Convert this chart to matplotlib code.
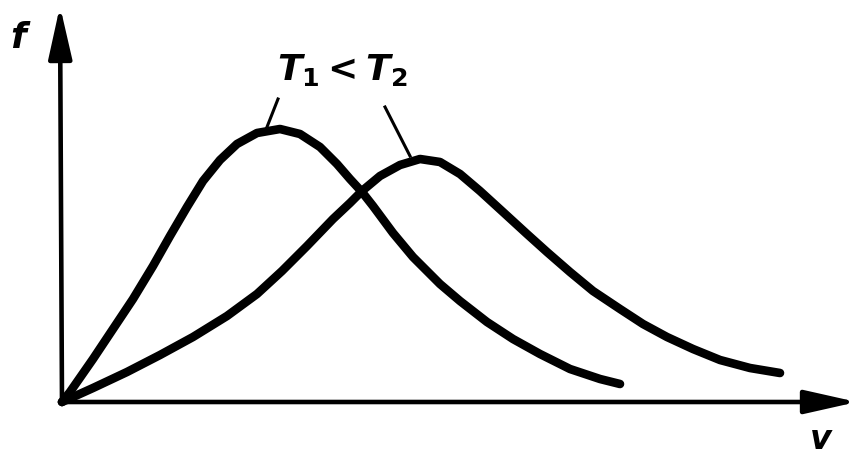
import matplotlib.pyplot as plt

plt.rcParams['mathtext.fontset'] = 'custom'
plt.rcParams['mathtext.it'] = 'DejaVu Sans:bold:italic'
plt.rcParams['mathtext.rm'] = 'DejaVu Sans:bold'

# speed distribution at the lower temperature T1
v1 = [0, 0.08, 0.31, 0.51, 0.71, 0.91, 1.08, 1.25, 1.41, 1.58, 1.75, 1.95,
      2.18, 2.38, 2.58, 2.75, 2.88, 3.00, 3.11, 3.31, 3.51, 3.78, 3.98, 4.25,
      4.51, 4.78, 5.08, 5.38, 5.58]
f1 = [0, 0.10, 0.43, 0.73, 1.03, 1.36, 1.66, 1.95, 2.21, 2.42, 2.58, 2.69,
      2.73, 2.68, 2.55, 2.38, 2.23, 2.10, 1.96, 1.69, 1.45, 1.18, 1.01, 0.80,
      0.63, 0.48, 0.33, 0.23, 0.18]

# speed distribution at the higher temperature T2
v2 = [0, 0.31, 0.65, 0.98, 1.31, 1.65, 1.95, 2.20, 2.45, 2.71, 2.88, 3.00,
      3.18, 3.38, 3.58, 3.78, 3.98, 4.18, 4.41, 4.65, 4.85, 5.08, 5.31, 5.58,
      5.81, 6.05, 6.31, 6.58, 6.88, 7.18]
f2 = [0, 0.14, 0.30, 0.47, 0.65, 0.86, 1.08, 1.31, 1.56, 1.83, 1.99, 2.11,
      2.26, 2.37, 2.43, 2.40, 2.28, 2.11, 1.90, 1.68, 1.50, 1.30, 1.11, 0.93,
      0.78, 0.65, 0.53, 0.42, 0.34, 0.29]

fig = plt.figure(figsize=(8.59, 4.56), dpi=100)
ax = fig.add_axes([0, 0, 1, 1])
ax.set_xlim(-0.62, 7.97)
ax.set_ylim(-0.53, 4.03)
ax.axis('off')

# axes with arrow heads
arrow = dict(arrowstyle='-|>,head_length=2.0,head_width=0.45', mutation_scale=16,
             lw=3.3, color='black', shrinkA=0, shrinkB=0)
ax.annotate('', xy=(-0.02, 3.96), xytext=(0, -0.02), arrowprops=arrow)
ax.annotate('', xy=(7.95, 0.0), xytext=(-0.02, 0.0), arrowprops=arrow)

style = dict(color='black', lw=6.2, solid_capstyle='round', solid_joinstyle='round')
ax.plot(v1, f1, **style)
ax.plot(v2, f2, **style)

# leader lines from the label to each curve
ax.plot([2.16, 2.05], [3.03, 2.75], color='black', lw=2.2)
ax.plot([3.23, 3.48], [2.95, 2.46], color='black', lw=2.2)

ax.text(2.15, 3.23, r'$T_1 < T_2$', fontsize=26, ha='left', va='baseline')
ax.text(-0.52, 3.55, 'f', fontsize=26, fontweight='bold', style='italic',
        ha='left', va='baseline')
ax.text(7.48, -0.46, 'v', fontsize=24, fontweight='bold', style='italic',
        ha='left', va='baseline')

fig.savefig('out.png', dpi=100)
